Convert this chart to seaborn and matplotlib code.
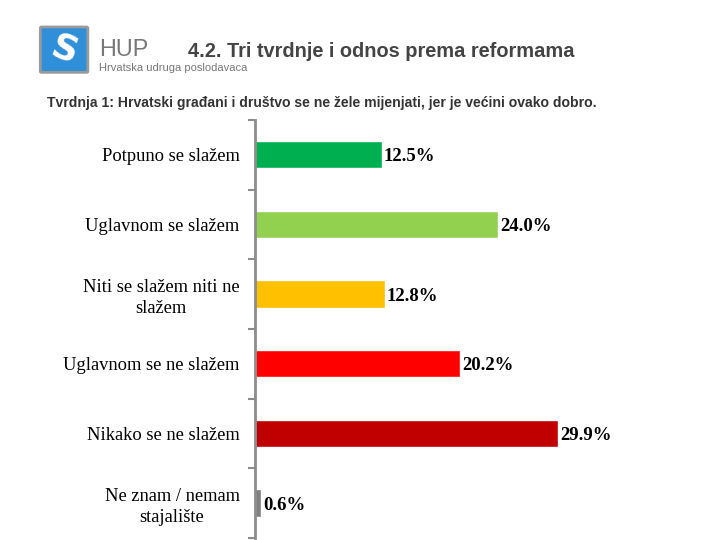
import matplotlib.pyplot as plt
import seaborn as sns
import pandas as pd
from matplotlib.patches import FancyBboxPatch

categories = ["Potpuno se slažem", "Uglavnom se slažem",
              "Niti se slažem niti ne\nslažem", "Uglavnom se ne slažem",
              "Nikako se ne slažem", "Ne znam / nemam\nstajalište"]
values = [12.5, 24.0, 12.8, 20.2, 29.9, 0.6]
colors = ["#00B050", "#92D050", "#FFC000", "#FF0000", "#C00000", "#808080"]

df = pd.DataFrame({"odgovor": categories, "postotak": values})

sns.set_style("white")
plt.rcParams["font.family"] = ["Liberation Serif", "DejaVu Serif"]
plt.rcParams["text.color"] = "black"
plt.rcParams["ytick.labelcolor"] = "black"

fig = plt.figure(figsize=(7.2, 5.4), dpi=100)
ax = fig.add_axes([0.354, 0.004, 0.51, 0.774])

sns.barplot(data=df, y="odgovor", x="postotak", hue="odgovor",
            palette=colors, legend=False, width=0.39, orient="h",
            saturation=1, ax=ax)

ax.set_xlim(0, 36.2)
ax.set_ylim(5.5, -0.5)
ax.set_xlabel("")
ax.set_ylabel("")
ax.set_xticks([])
ax.set_yticks([i - 0.5 for i in range(7)], minor=False)
ax.set_yticklabels([])
ax.set_yticks(range(len(categories)), minor=True)
ax.set_yticklabels(categories, minor=True, fontsize=13.3, ha="right",
                   color="black")
ax.tick_params(axis="y", which="minor", length=0, pad=11)
ax.tick_params(axis="y", which="major", length=5, width=1.5,
               color="#8c8c8c", left=True)
for lab in ax.get_yticklabels(minor=True):
    lab.set_multialignment("center")
    lab.set_linespacing(1.3)
    if "\n" in lab.get_text():
        lab.set_y(lab.get_position()[1])

for s in ["top", "right", "bottom"]:
    ax.spines[s].set_visible(False)
ax.spines["left"].set_color("#8c8c8c")
ax.spines["left"].set_linewidth(2)

for i, v in enumerate(values):
    ax.text(v + 0.2, i + 0.03, f"{v:.1f}%", va="center", ha="left",
            fontsize=13.5, fontweight="bold", color="black")

# logo
logo = FancyBboxPatch((0.058, 0.868), 0.062, 0.08, boxstyle="round,pad=0.002",
                      transform=fig.transFigure, facecolor="#2f8fd8",
                      edgecolor="#9a9a9a", linewidth=2)
fig.patches.append(logo)
fig.text(0.089, 0.908, "S", transform=fig.transFigure, fontsize=26,
         color="white", ha="center", va="center", family="DejaVu Sans",
         fontweight="bold", rotation=-20)
fig.text(0.138, 0.908, "HUP", fontsize=16.8, color="#777777",
         family="Liberation Sans", va="center")
fig.text(0.138, 0.874, "Hrvatska udruga poslodavaca", fontsize=8,
         color="#777777", family="Liberation Sans", va="center")

fig.text(0.261, 0.905, "4.2. Tri tvrdnje i odnos prema reformama",
         fontsize=14.4, fontweight="bold", color="#444444",
         family="Liberation Sans", va="center")
fig.text(0.065, 0.809,
         "Tvrdnja 1: Hrvatski građani i društvo se ne žele mijenjati, jer je većini ovako dobro.",
         fontsize=10.1, fontweight="bold", color="#333333",
         family="Liberation Sans", va="center")

fig.savefig("out.png", dpi=100)
